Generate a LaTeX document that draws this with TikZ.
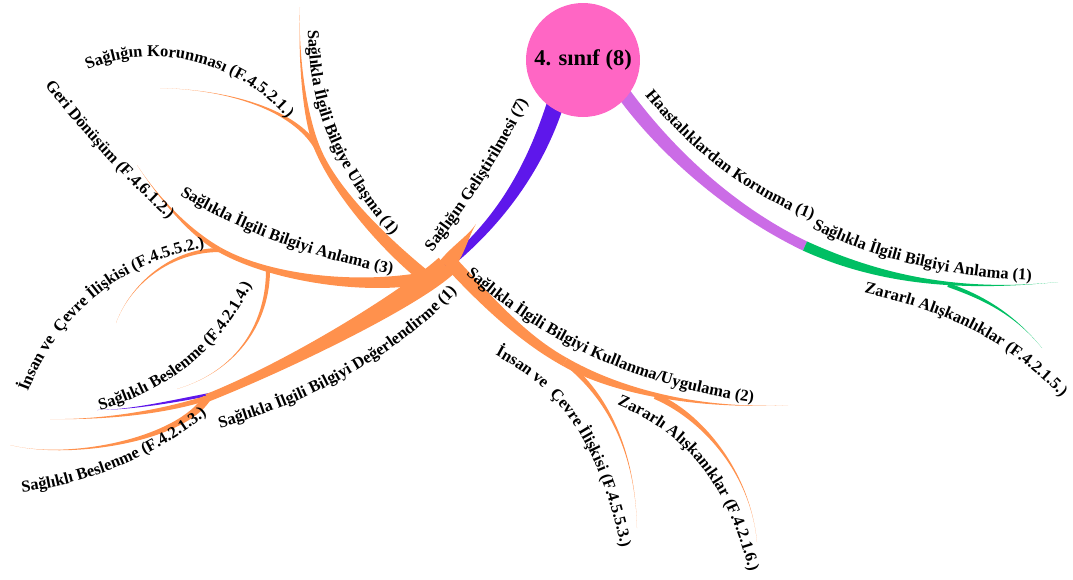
\documentclass[tikz,border=0pt]{standalone}
\usepackage{fontspec}
\setmainfont{Liberation Serif}
\usetikzlibrary{calc,decorations.text}

\definecolor{mmorange}{HTML}{FF914D}
\definecolor{mmviolet}{HTML}{5E17EB}
\definecolor{mmlilac}{HTML}{CB6CE6}
\definecolor{mmgreen}{HTML}{00BF63}
\definecolor{mmpink}{HTML}{FF66C4}

\newcommand\lblfont{\bfseries\fontsize{16.5}{18}\selectfont}

% tapered branch: colour, start width, end width, start, control 1, control 2, end
\newcommand\taper[7]{%
  \fill[#1] ($(#4)!0.5pt*#2!90:(#5)$)
    .. controls ($(#5)!0.5pt*#2!-90:(#4)$) and ($(#6)!0.5pt*#3!90:(#7)$) .. ($(#7)!0.5pt*#3!-90:(#6)$)
    -- ($(#7)!0.5pt*#3!90:(#6)$)
    .. controls ($(#6)!0.5pt*#3!-90:(#7)$) and ($(#5)!0.5pt*#2!90:(#4)$) .. ($(#4)!0.5pt*#2!-90:(#5)$)
    -- cycle;}

\tikzset{
  lbl/.style={decorate, decoration={text along path, text align=left, text={|\lblfont|#1}}},
  rootnode/.style={circle, fill=mmpink, minimum size=114pt, inner sep=0pt,
    font=\bfseries\fontsize{22.5}{26}\selectfont}
}

\begin{document}
\begin{tikzpicture}[x=1pt,y=-1pt]
\useasboundingbox (0,0) rectangle (1073,579);

% ---- branch points ----
\coordinate (g0) at (556,102);
\coordinate (gend) at (437,273);
\coordinate (dw) at (476,224);
\coordinate (d0) at (446,266);
\coordinate (ds) at (207,398);
\coordinate (dsv) at (212,394);
\coordinate (bsl) at (97,410);
\coordinate (thin) at (50,419);
\coordinate (bes3) at (10,445);
\coordinate (b0) at (425,278);
\coordinate (bA) at (220,250);
\coordinate (geri) at (137,165);
\coordinate (ins2) at (116,323);
\coordinate (bB) at (268,270);
\coordinate (bes4) at (177,389);
\coordinate (a0) at (424,276);
\coordinate (aK) at (318,150);
\coordinate (ulas) at (300,7);
\coordinate (kor) at (160,88);
\coordinate (k0) at (450,262);
\coordinate (kA) at (565,362);
\coordinate (kul) at (788,405);
\coordinate (ins3) at (637,528);
\coordinate (kZ) at (655,396);
\coordinate (zar6) at (757,542);
\coordinate (h0) at (624,94);
\coordinate (hA) at (805,246);
\coordinate (anl1) at (1058,282);
\coordinate (hZ) at (948,285);
\coordinate (zar5) at (1042,348);

% ---- violet trunk ----
\taper{mmviolet}{17}{8}{g0}{536,165}{500,225}{gend}
\taper{mmviolet}{3}{0}{dsv}{170,402}{130,410}{bsl}

% ---- orange branches ----
\taper{mmorange}{0}{16}{dw}{469,235}{458,251}{d0}
\taper{mmorange}{22}{8}{d0}{408,300}{290,365}{ds}
\taper{mmorange}{5}{0}{ds}{160,413}{100,420}{thin}
\taper{mmorange}{8}{0}{ds}{180,440}{70,460}{bes3}
\taper{mmorange}{12}{5}{b0}{360,290}{270,278}{bA}
\taper{mmorange}{5}{0}{bA}{190,233}{160,200}{geri}
\taper{mmorange}{4}{0}{bA}{170,250}{130,285}{ins2}
\taper{mmorange}{4}{0}{bB}{268,320}{240,370}{bes4}
\taper{mmorange}{13}{6}{a0}{380,240}{335,190}{aK}
\taper{mmorange}{6}{0}{aK}{305,120}{298,60}{ulas}
\taper{mmorange}{5}{0}{aK}{300,115}{240,90}{kor}
\taper{mmorange}{14}{9}{k0}{490,305}{525,340}{kA}
\taper{mmorange}{9}{0}{kA}{610,388}{690,410}{kul}
\taper{mmorange}{5}{0}{kA}{600,390}{635,440}{ins3}
\taper{mmorange}{6}{0}{kZ}{700,415}{750,470}{zar6}

% ---- lilac and green branches ----
\taper{mmlilac}{14}{10}{h0}{665,150}{730,210}{hA}
\taper{mmgreen}{10}{0}{hA}{880,280}{960,292}{anl1}
\taper{mmgreen}{4}{0}{hZ}{985,298}{1015,315}{zar5}

% ---- root ----
\node[rootnode] (root) at (583,60) {4. sınıf (8)};

% ---- labels along the branches ----
\path[lbl={Sağlığın Korunması (F.4.5.2.1.)}] (88,70) .. controls (150,40) and (250,58) .. (302,138);
\path[lbl={Sağlıkla İlgili Bilgiye Ulaşma (1)}] (308,30) .. controls (310,110) and (330,170) .. (415,262);
\path[lbl={Geri Dönüşüm (F.4.6.1.2.)}] (45,85) .. controls (75,125) and (120,175) .. (180,230);
\path[lbl={Sağlıkla İlgili Bilgiyi Anlama (3)}] (180,195) .. controls (240,232) and (320,262) .. (415,278);
\path[lbl={İnsan ve {\ }Çevre İlişkisi (F.4.5.5.2.)}] (28,392) .. controls (55,320) and (120,255) .. (225,245);
\path[lbl={Sağlıklı Beslenme (F.4.2.1.4.)}] (100,410) .. controls (170,390) and (235,345) .. (266,248);
\path[lbl={Sağlıklı Beslenme (F.4.2.1.3.)}] (22,492) .. controls (80,485) and (160,460) .. (226,398);
\path[lbl={Sağlıkla İlgili Bilgiyi Değerlendirme (1)}] (220,428) .. controls (300,405) and (400,360) .. (472,275);
\path[lbl={Sağlığın Geliştirilmesi (7)}] (432,252) .. controls (465,210) and (500,160) .. (536,85);
\path[lbl={Sağlıkla İlgili Bilgiyi Kullanma/Uygulama (2)}] (466,274) .. controls (540,340) and (640,390) .. (770,404);
\path[lbl={İnsan ve {\ }Çevre İlişkisi (F.4.5.5.3.)}] (495,355) .. controls (560,390) and (600,440) .. (624,562);
\path[lbl={Zararlı Alışkanıklar (F.4.2.1.6.)}] (617,405) .. controls (680,430) and (730,480) .. (752,585);
\path[lbl={Haastalıklardan Korunma (1)}] (645,95) .. controls (690,150) and (750,200) .. (830,226);
\path[lbl={Sağlıkla İlgili Bilgiyi Anlama (1)}] (812,228) .. controls (880,262) and (960,280) .. (1055,281);
\path[lbl={Zararlı Alışkanlıklar (F.4.2.1.5.)}] (864,293) .. controls (945,311) and (1012,340) .. (1075,412);
\end{tikzpicture}
\end{document}
